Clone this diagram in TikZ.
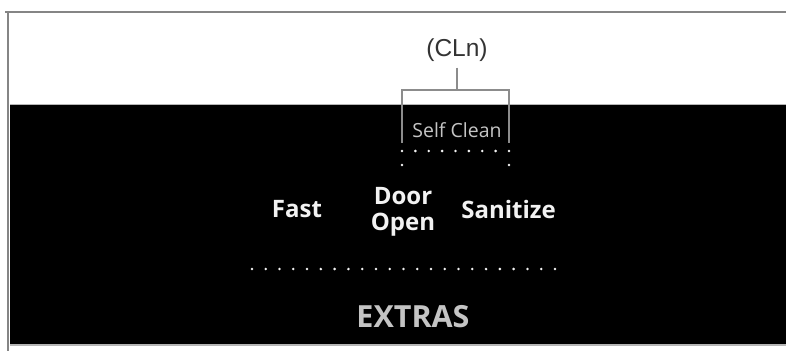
\documentclass[tikz,border=0pt]{standalone}
\usepackage{fontspec}
\setmainfont{Open Sans}
\newfontfamily\arialf{Liberation Sans}
\definecolor{framegray}{HTML}{858585}
\definecolor{brgray}{HTML}{8C8C8C}
\definecolor{txtwhite}{HTML}{F2F2F2}
\definecolor{txtgray}{HTML}{C4C4C4}
\definecolor{labgray}{HTML}{333333}
\tikzset{
  frameline/.style={draw=framegray, line width=2.2pt},
  bracketline/.style={draw=brgray, line width=1.4pt},
  btnlabel/.style={text=txtwhite, font=\bfseries\fontsize{24}{26}\selectfont, inner sep=0pt, align=center},
  dotmark/.style={fill=txtwhite, draw=none, circle, minimum size=2.8pt, inner sep=0pt}
}
\begin{document}
\begin{tikzpicture}[x=1pt,y=-1pt]
\useasboundingbox (0,0) rectangle (786,351);
\fill[white] (0,0) rectangle (786,351);
% panel
\fill[black] (10,105) rectangle (786,344);
\draw[draw=framegray!60, line width=1pt] (10,104.5) -- (786,104.5);
\draw[draw=framegray!60, line width=1.2pt] (10,345) -- (786,345);
% frame
\draw[frameline] (5,12) -- (786,12);
\draw[frameline] (8,12) -- (8,351);
% label and bracket
\node[text=labgray, font=\arialf\fontsize{24.5}{24.5}\selectfont, inner sep=0pt] (cln) at (457,50) {(CLn)};
\coordinate (brtop) at (457,90);
\coordinate (brl) at (402,90);
\coordinate (brr) at (509,90);
\coordinate (brlb) at (402,143);
\coordinate (brrb) at (509,143);
\draw[bracketline] (cln.south) ++(0,6) -- (brtop);
\draw[bracketline] (brlb) -- (brl) -- (brr) -- (brrb);
\node[text=txtgray, font=\fontsize{19.5}{19.5}\selectfont, inner sep=0pt] (selfclean) at (457,130) {Self Clean};
% dots under self clean
\foreach \i in {0,...,8} {
  \node[dotmark] (sd\i) at ({402+\i*13.375},151) {};
}
\node[dotmark] (sl) at (402,165) {};
\node[dotmark] (sr) at (509,165) {};
% buttons
\node[btnlabel] (fast) at (297,209) {Fast};
\node[btnlabel] (door) at (403,212) {Door\\Open};
\node[btnlabel] (sanitize) at (508.5,209) {Sanitize};
% dots row
\foreach \i in {0,...,22} {
  \node[dotmark] (ed\i) at ({252+\i*13.77},269) {};
}
\node[text=txtgray, font=\bfseries\fontsize{30.5}{30.5}\selectfont, inner sep=0pt] (extras) at (413,317) {EXTRAS};
\end{tikzpicture}
\end{document}
